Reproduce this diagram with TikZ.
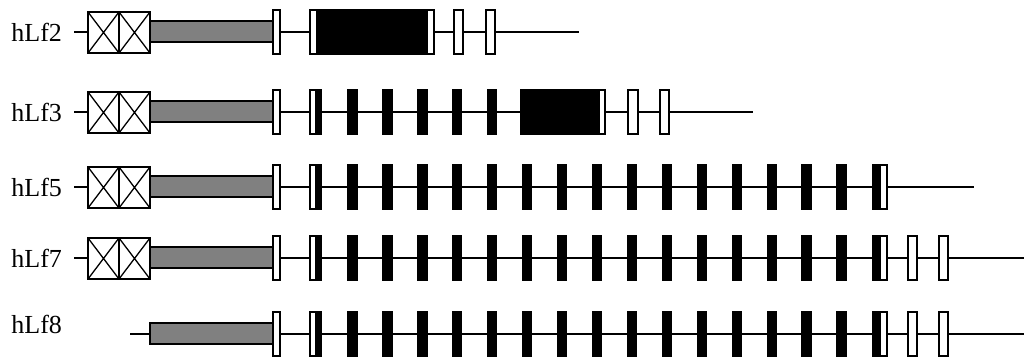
\documentclass[tikz,border=0pt]{standalone}
\usepackage{fontspec}
\setmainfont{Liberation Serif}
\newcommand\gexon[4]{\draw[exonbox,fill=#3] (#1,{#4-22}) rectangle (#2,{#4+22});}
\newcommand\gcomp[4]{% black part then white part, one outline
  \fill[black] (#1,{#4-22}) rectangle (#2,{#4+22});
  \draw[exonbox,fill=white] (#2,{#4-22}) rectangle (#3,{#4+22});
  \draw[exonbox] (#1,{#4-22}) rectangle (#3,{#4+22});}
\newcommand\gpromo[1]{%
  \foreach \a/\b in {88/119,119/150}{%
    \draw[exonbox,fill=white] (\a,{#1-20}) rectangle (\b,{#1+21});
    \draw[exonbox] (\a,{#1-20}) -- (\b,{#1+21}) (\a,{#1+21}) -- (\b,{#1-20});}}
\newcommand\gutr[1]{\draw[exonbox,fill=gray] (150,{#1-11}) rectangle (274,{#1+10});}
\newcommand\gblacks[2]{\foreach \k in {0,...,#1}{\gexon{348+34.93*\k}{357+34.93*\k}{black}{#2}}}
\begin{document}
\begin{tikzpicture}[x=0.5pt,y=-0.5pt,
  backbone/.style={line width=0.8pt},
  exonbox/.style={draw=black,line width=0.65pt},
  lab/.style={font=\fontsize{13}{15}\selectfont,inner sep=0pt,anchor=west}]
\useasboundingbox (0,0) rectangle (1024,358);
% ---------- hLf2
\node[lab] (l2) at (11,32) {hLf2};
\coordinate (s2) at (74,32); \coordinate (e2) at (579,32);
\draw[backbone] (s2) -- (e2);
\gpromo{32}\gutr{32}
\gexon{273}{280}{white}{32}
\draw[exonbox,fill=white] (310,10) rectangle (434,54);
\fill[black] (316,10) rectangle (428,54);
\draw[exonbox] (310,10) rectangle (434,54);
\gexon{454}{463}{white}{32}
\gexon{486}{495}{white}{32}
% ---------- hLf3
\node[lab] (l3) at (11,112) {hLf3};
\coordinate (s3) at (74,112); \coordinate (e3) at (753,112);
\draw[backbone] (s3) -- (e3);
\gpromo{112}\gutr{112}
\gexon{273}{280}{white}{112}
\draw[exonbox,fill=white] (310,90) rectangle (321,134);
\fill[black] (315,90) rectangle (321,134);
\draw[exonbox] (310,90) rectangle (321,134);
\gblacks{4}{112}
\gcomp{521}{599}{605}{112}
\gexon{628}{638}{white}{112}
\gexon{660}{669}{white}{112}
% ---------- hLf5
\node[lab] (l5) at (11,187) {hLf5};
\coordinate (s5) at (74,187); \coordinate (e5) at (974,187);
\draw[backbone] (s5) -- (e5);
\gpromo{187}\gutr{187}
\gexon{273}{280}{white}{187}
\draw[exonbox,fill=white] (310,165) rectangle (321,209);
\fill[black] (315,165) rectangle (321,209);
\draw[exonbox] (310,165) rectangle (321,209);
\gblacks{14}{187}
\gcomp{873}{880}{887}{187}
% ---------- hLf7
\node[lab] (l7) at (11,258) {hLf7};
\coordinate (s7) at (74,258); \coordinate (e7) at (1024,258);
\draw[backbone] (s7) -- (e7);
\gpromo{258}\gutr{258}
\gexon{273}{280}{white}{258}
\draw[exonbox,fill=white] (310,236) rectangle (321,280);
\fill[black] (315,236) rectangle (321,280);
\draw[exonbox] (310,236) rectangle (321,280);
\gblacks{14}{258}
\gcomp{873}{880}{887}{258}
\gexon{908}{917}{white}{258}
\gexon{939}{948}{white}{258}
% ---------- hLf8
\node[lab] (l8) at (11,324) {hLf8};
\coordinate (s8) at (130,334); \coordinate (e8) at (1024,334);
\draw[backbone] (s8) -- (e8);
\gutr{334}
\gexon{273}{280}{white}{334}
\draw[exonbox,fill=white] (310,312) rectangle (321,356);
\fill[black] (315,312) rectangle (321,356);
\draw[exonbox] (310,312) rectangle (321,356);
\gblacks{14}{334}
\gcomp{873}{880}{887}{334}
\gexon{908}{917}{white}{334}
\gexon{939}{948}{white}{334}
\end{tikzpicture}
\end{document}
